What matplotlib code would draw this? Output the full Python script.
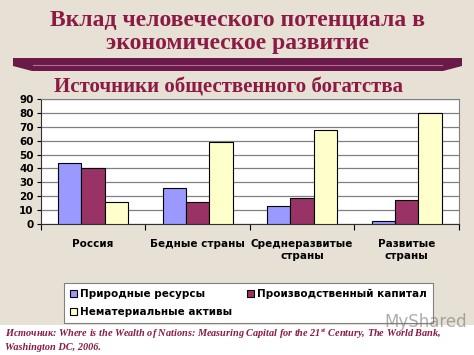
import matplotlib
matplotlib.use('Agg')
from matplotlib import pyplot as plt
from matplotlib.patches import Rectangle, Polygon
from matplotlib.lines import Line2D
import numpy as np

categories = ['Россия', 'Бедные страны', 'Среднеразвитые\nстраны', 'Развитые\nстраны']
series_names = ['Природные ресурсы', 'Производственный капитал', 'Нематериальные активы']
natural = [44, 26, 13, 2]
produced = [40, 16, 19, 17]
intangible = [16, 59, 68, 80]
colors = ['#9999FF', '#993366', '#FFFFCC']

W, H = 474, 355
bg = '#E7E1D5'
maroon = '#8B1A44'

plt.rcParams['mathtext.fontset'] = 'custom'
plt.rcParams['mathtext.rm'] = 'Liberation Serif:bold:italic'
plt.rcParams['mathtext.it'] = 'Liberation Serif:bold:italic'

fig = plt.figure(figsize=(W / 100, H / 100), dpi=100, facecolor=bg)


def fx(x):
    return x / W


def fy(y):
    return 1 - y / H


# white strip at the bottom for the source note
fig.patches.append(Rectangle((0, 0), 1, fy(325), transform=fig.transFigure,
                             facecolor='white', edgecolor='none', zorder=0))

# titles
fig.text(0.5, fy(21), 'Вклад человеческого потенциала в', ha='center', va='center',
         fontsize=17, fontweight='bold', family='Liberation Serif', color=maroon)
fig.text(0.5, fy(43), 'экономическое развитие', ha='center', va='center',
         fontsize=17, fontweight='bold', family='Liberation Serif', color=maroon)

# decorative band
band = Polygon([(fx(13), fy(58)), (fx(462), fy(58)), (fx(462), fy(66)),
                (fx(443), fy(71)), (fx(32), fy(71)), (fx(13), fy(66))],
               closed=True, transform=fig.transFigure, facecolor='#6A1A48',
               edgecolor='none', zorder=1)
fig.patches.append(band)
fig.lines.append(Line2D([fx(33), fx(442)], [fy(65), fy(65)], transform=fig.transFigure,
                        color='#B86A92', lw=0.8, zorder=2))

fig.text(fx(229), fy(87), 'Источники общественного богатства', ha='center', va='center',
         fontsize=15, fontweight='bold', family='Liberation Serif', color=maroon)

ax = fig.add_axes([fx(40.7), fy(224), fx(459) - fx(40.7), fy(99) - fy(224)])
ax.set_facecolor('white')

x = np.arange(len(categories))
w = 0.223
data = [natural, produced, intangible]
bars = []
for i, vals in enumerate(data):
    b = ax.bar(x + (i - 1) * w, vals, w, color=colors[i], edgecolor='black',
               linewidth=0.8, zorder=3)
    bars.append(b)

ax.set_xlim(-0.5, len(categories) - 0.5)
ax.set_ylim(0, 90)
ax.set_yticks(np.arange(0, 91, 10))
ax.yaxis.grid(True, color='#808080', lw=0.9, zorder=0)
ax.set_axisbelow(True)
for lbl in ax.get_yticklabels():
    lbl.set_fontweight('bold')
ax.tick_params(axis='y', labelsize=7.5, length=3, pad=2)

ax.set_xticks(np.arange(-0.5, len(categories), 1.0))
ax.set_xticklabels([])
ax.set_xticks(x, minor=True)
ax.set_xticklabels(categories, minor=True, fontsize=7.5, fontweight='bold')
ax.tick_params(axis='x', which='major', length=4, direction='out')
ax.tick_params(axis='x', which='minor', length=0, pad=11)

ax.spines['left'].set_color('#303030')
ax.spines['bottom'].set_color('#303030')
ax.spines['top'].set_color('#808080')
ax.spines['right'].set_color('#808080')

handles = [bars[0], bars[2], bars[1]]
labels = [series_names[0], series_names[2], series_names[1]]
leg = fig.legend(handles, labels, ncol=2, loc='center',
                 bbox_to_anchor=(fx(248.5), fy(303)), fontsize=7.5,
                 frameon=True, fancybox=False, edgecolor='#808080', framealpha=1,
                 handlelength=0.7, handleheight=0.7, handletextpad=0.3,
                 columnspacing=1.4, borderpad=0.6, labelspacing=0.8)
leg.get_frame().set_linewidth(0.8)
for t in leg.get_texts():
    t.set_fontweight('bold')

fig.text(fx(5), fy(334), r'Источник: Where is the Wealth of Nations: Measuring Capital for the 21$^{st}$ Century, The World Bank,',
         ha='left', va='center', fontsize=7.4, fontweight='bold', style='italic',
         family='Liberation Serif', color=maroon)
fig.text(fx(5), fy(347), 'Washington DC, 2006.', ha='left', va='center', fontsize=7.4,
         fontweight='bold', style='italic', family='Liberation Serif', color=maroon)

# watermark
fig.text(fx(384), fy(322), 'MyShared', ha='left', va='center', fontsize=12,
         color='#777777', alpha=0.6, family='DejaVu Sans', zorder=10)

fig.savefig('out.png', dpi=100, facecolor=bg)
